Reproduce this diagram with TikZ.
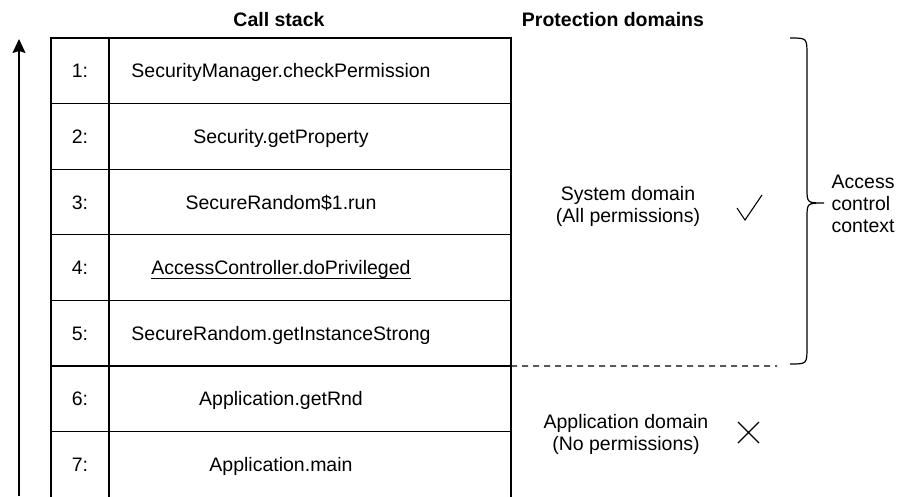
\documentclass[tikz,border=0pt]{standalone}
\usepackage{fontspec}
\setmainfont{Liberation Sans}
\usetikzlibrary{arrows.meta}
% underline sitting close under the baseline
\newcommand\callunderline[1]{\setbox0\hbox{#1}\rlap{\rule[-4.6pt]{\wd0}{1.3pt}}\box0}
\begin{document}
\begin{tikzpicture}[x=1pt,y=-1pt,
  line width=1.3pt,
  font=\fontsize{19.5}{22}\selectfont,
  rowbox/.style={draw, rectangle, outer sep=0pt, inner sep=0pt,
    minimum width=460pt, minimum height=65.6pt, text height=14pt, text depth=0pt},
  idxbox/.style={draw, rectangle, outer sep=0pt, inner sep=0pt,
    minimum width=58pt, minimum height=65.6pt, text height=14pt, text depth=0pt},
  heading/.style={font=\fontsize{19.5}{22}\selectfont\bfseries, anchor=base},
  domainlabel/.style={align=center, inner sep=0pt},
  markstroke/.style={line width=1.1pt}]
\useasboundingbox (0,0) rectangle (898,496);

% headings
\node[heading] (hstack) at (279,26) {Call stack};
\node[heading] (hdom) at (613,26) {Protection domains};

% call stack rows, top of stack first
\foreach \t [count=\i] in {SecurityManager.checkPermission,
    Security.getProperty, SecureRandom\$1.run,
    \callunderline{AccessController.doPrivileged},
    SecureRandom.getInstanceStrong, Application.getRnd, Application.main} {
  \node[rowbox] (r\i) at (281,{38+65.6*(\i-0.5)}) {\t};
  \node[idxbox, anchor=north west] (i\i) at (r\i.north west) {\i:};
}

% direction of the stack
\coordinate (abot) at (19,496);
\coordinate (atop) at (19,39);
\draw[-{Stealth[length=14pt,width=13pt,inset=2pt]}] (abot) -- (atop);

% boundary between the two protection domains
\coordinate (dashend) at (777,366);
\draw[dash pattern=on 6pt off 5pt, line width=1.1pt] (r5.south east) -- (dashend);

% domain labels
\node[domainlabel] (sysdom) at (628,206) {System domain\\(All permissions)};
\node[domainlabel] (appdom) at (626,434) {Application domain\\(No permissions)};

% granted / denied marks
\draw[markstroke] (737,208) -- (745,220) -- (762,195);
\draw[markstroke] (738,422) -- (759,443) (759,422) -- (738,443);

% brace around the access control context
\coordinate (btop) at (790,38);
\coordinate (bbot) at (790,364);
\coordinate (btip) at (824,203);
\draw[line width=1.2pt] (btop) .. controls (807,38) .. (807,55) -- (807,188)
  .. controls (807,203) .. (btip)
  .. controls (807,203) .. (807,218) -- (807,347)
  .. controls (807,364) .. (bbot);
\node[align=left, anchor=west, inner sep=0pt] (acc) at (831,204)
  {Access\\control\\context};
\end{tikzpicture}
\end{document}
